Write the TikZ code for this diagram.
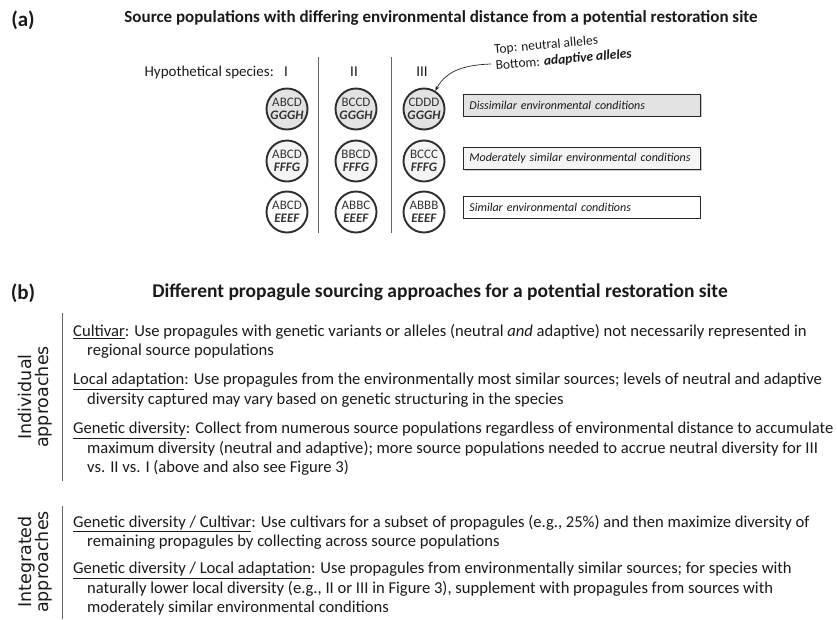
\documentclass[tikz,border=0pt]{standalone}
\usepackage{fontspec}
\setmainfont{Carlito}
\newfontfamily\labfont{DejaVu Sans}
\usetikzlibrary{shadows,arrows.meta}
\definecolor{ink}{HTML}{1A1A1A}
\definecolor{circtxt}{HTML}{333333}
\definecolor{rowA}{HTML}{E3E3E3}
\definecolor{rowB}{HTML}{F4F4F4}
\begin{document}
\begin{tikzpicture}[x=1pt,y=-1pt,
  popc/.style={circle, draw=black!82, line width=1.9pt, minimum size=41pt, inner sep=0pt,
    align=center, font=\fontsize{13}{13.5}\selectfont, text=circtxt},
  envbox/.style={draw=black!85, line width=0.8pt, minimum width=237pt, minimum height=22pt,
    anchor=west, text width=225pt, align=left, inner xsep=6pt, inner ysep=0pt,
    font=\fontsize{12}{14}\selectfont\itshape, text=ink},
  shad/.style={drop shadow={shadow xshift=1.2pt, shadow yshift=-1.2pt, fill=black!35, opacity=0.6}},
  sepline/.style={draw=black!60, line width=1pt},
  body/.style={anchor=north west, inner sep=0pt, align=left, text=ink,
    font=\fontsize{16.6}{19.3}\selectfont},
  sidelab/.style={rotate=90, align=center, text=ink, inner sep=0pt,
    font=\labfont\fontsize{17.5}{17.5}\selectfont},
  panel/.style={font=\bfseries\fontsize{21}{23}\selectfont, text=ink, inner sep=0pt},
  heading/.style={font=\bfseries\fontsize{17}{18}\selectfont, text=ink, inner sep=0pt},
  spec/.style={inner sep=0pt, font=\fontsize{15}{17}\selectfont, text=ink},
  notetxt/.style={rotate=5, anchor=west, inner sep=0pt, text=ink, font=\fontsize{13.5}{16}\selectfont}
]
\useasboundingbox (0,0) rectangle (837,619);

% ---------- (a) ----------
\node[panel] (la) at (23,20) {(a)};
\node[heading] (ta) at (441,18) {Source populations with differing environmental distance from a potential restoration site};

\node[spec, anchor=east] (hyp) at (274,72) {Hypothetical species:};
\node[spec] (s1) at (286,72) {I};
\node[spec] (s2) at (354,72) {II};
\node[spec] (s3) at (422,72) {III};

\draw[sepline] (318,57) -- (318,233);
\draw[sepline] (391,57) -- (391,233);

% circles row 1
\node[popc, fill=rowA] (c11) at (287,109) {ABCD\\\textbf{\textit{GGGH}}};
\node[popc, fill=rowA] (c12) at (356,109) {BCCD\\\textbf{\textit{GGGH}}};
\node[popc, fill=rowA] (c13) at (424,109) {CDDD\\\textbf{\textit{GGGH}}};
% row 2
\node[popc, fill=rowB] (c21) at (287,161) {ABCD\\\textbf{\textit{FFFG}}};
\node[popc, fill=rowB] (c22) at (356,161) {BBCD\\\textbf{\textit{FFFG}}};
\node[popc, fill=rowB] (c23) at (424,161) {BCCC\\\textbf{\textit{FFFG}}};
% row 3
\node[popc, fill=white] (c31) at (287,212) {ABCD\\\textbf{\textit{EEEF}}};
\node[popc, fill=white] (c32) at (356,212) {ABBC\\\textbf{\textit{EEEF}}};
\node[popc, fill=white] (c33) at (424,212) {ABBB\\\textbf{\textit{EEEF}}};

\node[envbox, shad, fill=rowA] (b1) at (463,105) {Dissimilar environmental conditions};
\node[envbox, shad, fill=rowB] (b2) at (463,158.5) {Moderately similar environmental conditions};
\node[envbox, fill=white] (b3) at (463,207) {Similar environmental conditions};

\node[notetxt] (noteA) at (494,50) {Top: neutral alleles};
\node[notetxt] (noteB) at (495.5,66) {Bottom: \textbf{\textit{adaptive alleles}}};
\coordinate (arrS) at (491,64);
\draw[black!85, line width=0.7pt, -{Stealth[length=5pt,width=4pt]}]
  (arrS) to[out=182, in=62] (c13.58);

% ---------- (b) ----------
\node[panel] (lb) at (23,293) {(b)};
\node[heading, font=\bfseries\fontsize{19.5}{21}\selectfont] (tb) at (440,292)
  {Different propagule sourcing approaches for a potential restoration site};

\draw[sepline] (62,313) -- (62,481);
\draw[sepline] (62,506) -- (62,619);

\node[sidelab] (ind) at (35,397) {Individual\\approaches};
\node[sidelab] (integ) at (35,562) {Integrated\\approaches};

\node[body] (p1) at (73,324) {\underline{Cultivar}: Use propagules with genetic variants or alleles (neutral \textit{and} adaptive) not necessarily represented in\\
\hspace*{14pt}regional source populations};
\node[body] (p2) at (73,373) {\underline{Local adaptation}: Use propagules from the environmentally most similar sources; levels of neutral and adaptive\\
\hspace*{14pt}diversity captured may vary based on genetic structuring in the species};
\node[body] (p3) at (73,422) {\underline{Genetic diversity}: Collect from numerous source populations regardless of environmental distance to accumulate\\
\hspace*{14pt}maximum diversity (neutral and adaptive); more source populations needed to accrue neutral diversity for III\\
\hspace*{14pt}vs. II vs. I (above and also see Figure 3)};
\node[body] (p4) at (73,515) {\underline{Genetic diversity / Cultivar}: Use cultivars for a subset of propagules (e.g., 25\%) and then maximize diversity of\\
\hspace*{14pt}remaining propagules by collecting across source populations};
\node[body] (p5) at (73,562) {\underline{Genetic diversity / Local adaptation}: Use propagules from environmentally similar sources; for species with\\
\hspace*{14pt}naturally lower local diversity (e.g., II or III in Figure 3), supplement with propagules from sources with\\
\hspace*{14pt}moderately similar environmental conditions};
\end{tikzpicture}
\end{document}
